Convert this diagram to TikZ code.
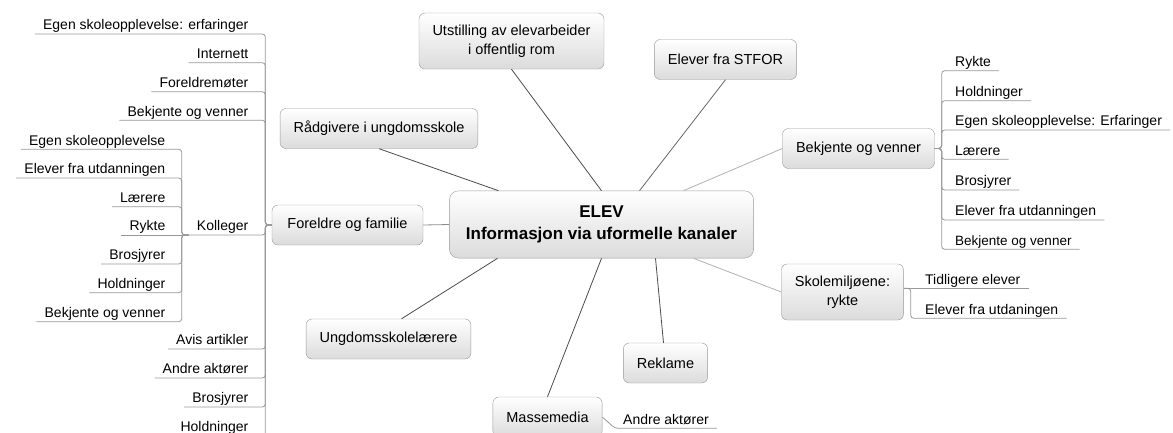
\documentclass[tikz,border=0pt]{standalone}
\usepackage{fontspec}
\setmainfont{Liberation Sans}
\usepackage{tikz}
\newcommand{\topicfont}{\fontsize{14.5}{18.5}\selectfont}
\newcommand{\leaffont}{\fontsize{14}{17}\selectfont}
\newcommand{\corefont}{\fontsize{17}{22}\selectfont\bfseries}

\begin{document}
\begin{tikzpicture}[x=1pt, y=-1pt,
    topic/.style={rectangle, draw=black!40, rounded corners=6pt, top color=white, bottom color=black!14, inner xsep=13.5pt, inner ysep=12pt, minimum height=40pt, align=center, font=\topicfont},
    core/.style={topic, rounded corners=9pt, inner xsep=16.5pt, inner ysep=15pt, font=\corefont},
    leaf/.style={inner xsep=8pt, inner ysep=0pt, text height=11pt, text depth=4pt, font=\leaffont},
    link/.style={draw=black!70, line width=0.8pt},
    softlink/.style={draw=black!30, line width=0.8pt},
    branch/.style={draw=black!40, line width=0.8pt, rounded corners=3pt}
]
\useasboundingbox (0,0) rectangle (1173,432);
\fill[white] (0,0) rectangle (1173,432);

% sentralt emne
\node[core] (elev) at (601.5,224.5) {ELEV\\Informasjon via uformelle kanaler};

% hovedemner
\node[topic] (utstilling) at (511.5,41) {Utstilling av elevarbeider\\i offentlig rom};
\node[topic] (stfor) at (725.5,59.5) {Elever fra STFOR};
\node[topic] (raadgivere) at (379,128.5) {Rådgivere i ungdomsskole};
\node[topic, minimum width=151pt] (foreldre) at (347.5,225) {Foreldre og familie};
\node[topic] (ungdom) at (388.5,339) {Ungdomsskolelærere};
\node[topic] (massemedia) at (547.5,417) {Massemedia};
\node[topic] (reklame) at (665.5,363) {Reklame};
\node[topic] (bekjente) at (858.5,148.5) {Bekjente og venner};
\node[topic] (skole) at (842.5,292) {Skolemiljøene:\\rykte};

% foreldre og familie
\node[leaf, anchor=south east] (fam-egen) at (256.5,34) {Egen skoleopplevelse: erfaringer};
\node[leaf, anchor=south east] (fam-internett) at (256.5,62.7) {Internett};
\node[leaf, anchor=south east] (fam-moter) at (256.5,91.7) {Foreldremøter};
\node[leaf, anchor=south east] (fam-bekjente) at (256.5,120.3) {Bekjente og venner};
\node[leaf, anchor=south east] (kolleger) at (256.5,235) {Kolleger};
\node[leaf, anchor=south east] (fam-avis) at (256.5,349) {Avis artikler};
\node[leaf, anchor=south east] (fam-andre) at (256.5,378) {Andre aktører};
\node[leaf, anchor=south east] (fam-brosjyrer) at (256.5,407) {Brosjyrer};
\node[leaf, anchor=south east] (fam-holdninger) at (256.5,436) {Holdninger};

% kolleger
\node[leaf, anchor=south east] (kol-egen) at (173.5,149.3) {Egen skoleopplevelse};
\node[leaf, anchor=south east] (kol-elever) at (173.5,178) {Elever fra utdanningen};
\node[leaf, anchor=south east] (kol-laerere) at (173.5,206.7) {Lærere};
\node[leaf, anchor=south east] (kol-rykte) at (173.5,235) {Rykte};
\node[leaf, anchor=south east] (kol-brosjyrer) at (173.5,264) {Brosjyrer};
\node[leaf, anchor=south east] (kol-holdninger) at (173.5,292.7) {Holdninger};
\node[leaf, anchor=south east] (kol-bekjente) at (173.5,321.7) {Bekjente og venner};

% bekjente og venner
\node[leaf, anchor=south west] (bek-rykte) at (947,70.7) {Rykte};
\node[leaf, anchor=south west] (bek-holdninger) at (947,100.7) {Holdninger};
\node[leaf, anchor=south west] (bek-egen) at (947,130) {Egen skoleopplevelse: Erfaringer};
\node[leaf, anchor=south west] (bek-laerere) at (947,159.3) {Lærere};
\node[leaf, anchor=south west] (bek-brosjyrer) at (947,190) {Brosjyrer};
\node[leaf, anchor=south west] (bek-elever) at (947,220) {Elever fra utdanningen};
\node[leaf, anchor=south west, font=\fontsize{13.5}{16}\selectfont] (bek-bekjente) at (947,249.3) {Bekjente og venner};

% skolemiljøene og massemedia
\node[leaf, anchor=south west] (sko-tidligere) at (917,288.3) {Tidligere elever};
\node[leaf, anchor=south west] (sko-elever) at (917,318.3) {Elever fra utdaningen};
\node[leaf, anchor=south west] (mas-andre) at (615,428.3) {Andre aktører};

% linjer til sentralt emne
\draw[link] (raadgivere.south) -- ([xshift=-103pt]elev.north);
\draw[link] (utstilling.south) -- (elev.north);
\draw[link, draw=black!60] (stfor.south) -- ([xshift=38pt]elev.north);
\draw[softlink] (bekjente.west) -- ([xshift=82pt]elev.north);
\draw[softlink] (skole.west) -- ([xshift=92pt]elev.south);
\draw[link] ([xshift=-2pt]reklame.north) -- ([xshift=54pt]elev.south);
\draw[link] (massemedia.north) -- (elev.south);
\draw[link] ([xshift=13pt]ungdom.north) -- ([xshift=-104pt]elev.south);
\draw[link, draw=black!45] (foreldre.east) -- (elev.west);

% grener
\draw[branch] (foreldre.west) -- ++(-6.5,0) |- (fam-egen.south west);
\draw[branch] (foreldre.west) -- ++(-6.5,0) |- (fam-internett.south west);
\draw[branch] (foreldre.west) -- ++(-6.5,0) |- (fam-moter.south west);
\draw[branch] (foreldre.west) -- ++(-6.5,0) |- (fam-bekjente.south west);
\draw[branch] (foreldre.west) -- ++(-6.5,0) |- (kolleger.south west);
\draw[branch] (foreldre.west) -- ++(-6.5,0) |- (fam-avis.south west);
\draw[branch] (foreldre.west) -- ++(-6.5,0) |- (fam-andre.south west);
\draw[branch] (foreldre.west) -- ++(-6.5,0) |- (fam-brosjyrer.south west);
\draw[branch] (foreldre.west) -- ++(-6.5,0) |- (fam-holdninger.south west);

\draw[branch] (kolleger.south west) -- ++(-7,0) |- (kol-egen.south west);
\draw[branch] (kolleger.south west) -- ++(-7,0) |- (kol-elever.south west);
\draw[branch] (kolleger.south west) -- ++(-7,0) |- (kol-laerere.south west);
\draw[branch] (kolleger.south west) -- (kol-rykte.south west);
\draw[branch] (kolleger.south west) -- ++(-7,0) |- (kol-brosjyrer.south west);
\draw[branch] (kolleger.south west) -- ++(-7,0) |- (kol-holdninger.south west);
\draw[branch] (kolleger.south west) -- ++(-7,0) |- (kol-bekjente.south west);

\draw[branch] (bekjente.east) -- ++(7,0) |- (bek-rykte.south east);
\draw[branch] (bekjente.east) -- ++(7,0) |- (bek-holdninger.south east);
\draw[branch] (bekjente.east) -- ++(7,0) |- (bek-egen.south east);
\draw[branch] (bekjente.east) -- ++(7,0) |- (bek-laerere.south east);
\draw[branch] (bekjente.east) -- ++(7,0) |- (bek-brosjyrer.south east);
\draw[branch] (bekjente.east) -- ++(7,0) |- (bek-elever.south east);
\draw[branch] (bekjente.east) -- ++(7,0) |- (bek-bekjente.south east);

\draw[branch] ([yshift=3.7pt]skole.east) -- (sko-tidligere.south east);
\draw[branch] ([yshift=3.7pt]skole.east) -- ++(7,0) |- (sko-elever.south east);

\draw[branch] (massemedia.east) -- (mas-andre.south west) -- (mas-andre.south east);
\end{tikzpicture}
\end{document}
